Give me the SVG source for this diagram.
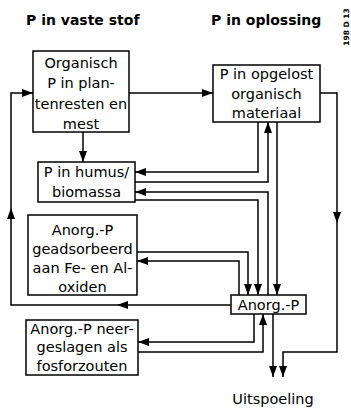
<svg xmlns="http://www.w3.org/2000/svg" width="351" height="412" viewBox="0 0 351 412">
<defs>
<style>
.box{fill:#fff;stroke:#000;stroke-width:1.5}
.t{font-family:"DejaVu Sans",sans-serif;font-size:14.5px;fill:#000;text-anchor:middle}
.h{font-family:"DejaVu Sans",sans-serif;font-weight:bold;font-size:14px;fill:#000}
.c{fill:none;stroke:#000;stroke-width:1.5;marker-end:url(#ah)}
</style>
<marker id="ah" markerWidth="11" markerHeight="8" refX="11" refY="4" orient="auto" markerUnits="userSpaceOnUse"><path d="M0,0 L11,4 L0,8 Z" fill="#000"/></marker>
</defs>
<rect width="351" height="412" fill="#fff"/>
<text class="h" x="26" y="25">P in vaste stof</text>
<text class="h" x="211" y="25">P in oplossing</text>
<text transform="translate(349,27) rotate(-90)" text-anchor="middle" font-family="DejaVu Sans,sans-serif" font-weight="bold" font-size="7.5">198 D 13</text>

<g id="connectors">
<path class="c" d="M129,93 H213"/>
<path class="c" d="M83,132 V162"/>
<path class="c" d="M231,305 H117"/>
<path class="c" d="M117,305 H11 V208"/>
<path class="c" d="M11,208 V93 H33"/>
<path class="c" d="M320,93 H337 V223"/>
<path class="c" d="M337,223 V352 H283 V377"/>
<path class="c" d="M273,314 V377"/>
<path class="c" d="M258,122 V172 H135"/>
<path class="c" d="M135,182 H268 V122"/>
<path class="c" d="M277,122 V295"/>
<path class="c" d="M268,295 V192 H135"/>
<path class="c" d="M135,200 H258 V295"/>
<path class="c" d="M137,252 H248 V295"/>
<path class="c" d="M239,295 V261 H137"/>
<path class="c" d="M254,314 V342 H138"/>
<path class="c" d="M138,352 H263 V314"/>
</g>

<g id="organisch">
<rect class="box" x="33" y="51" width="96" height="81"/>
<text class="t" x="81" y="68">Organisch</text>
<text class="t" x="81" y="88">P in plan-</text>
<text class="t" x="81" y="109">tenresten en</text>
<text class="t" x="81" y="129">mest</text>
</g>
<g id="opgelost">
<rect class="box" x="213" y="65" width="107" height="57"/>
<text class="t" x="266.5" y="79">P in opgelost</text>
<text class="t" x="266.5" y="99">organisch</text>
<text class="t" x="266.5" y="118">materiaal</text>
</g>
<g id="humus">
<rect class="box" x="38" y="162" width="97" height="40"/>
<text class="t" x="86.5" y="177">P in humus/</text>
<text class="t" x="86.5" y="197">biomassa</text>
</g>
<g id="geadsorbeerd">
<rect class="box" x="28" y="215" width="109" height="80"/>
<text class="t" x="82.5" y="235">Anorg.-P</text>
<text class="t" x="82.5" y="254">geadsorbeerd</text>
<text class="t" x="82.5" y="273">aan Fe- en Al-</text>
<text class="t" x="82.5" y="292">oxiden</text>
</g>
<g id="neergeslagen">
<rect class="box" x="26" y="320" width="112" height="55"/>
<text class="t" x="82" y="334">Anorg.-P neer-</text>
<text class="t" x="82" y="352">geslagen als</text>
<text class="t" x="82" y="371">fosforzouten</text>
</g>
<g id="anorg">
<rect class="box" x="231" y="295" width="75" height="19"/>
<text class="t" x="268.5" y="310" font-size="15">Anorg.-P</text>
</g>
<g id="uitspoeling">
<text class="t" x="273" y="404">Uitspoeling</text>
</g>
</svg>
